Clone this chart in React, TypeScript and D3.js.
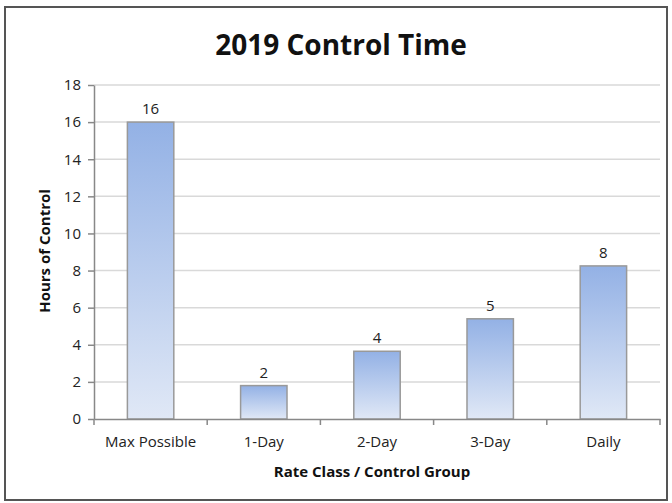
import React, { useEffect, useRef } from 'react';
import * as d3 from 'd3';

const categories = ['Max Possible', '1-Day', '2-Day', '3-Day', 'Daily'];
const hours = [16, 1.8, 3.65, 5.4, 8.25];
const yTicks = [0, 2, 4, 6, 8, 10, 12, 14, 16, 18];

const FONT = '"Open Sans", Lato, sans-serif';

export default function App() {
  const svgRef = useRef<SVGSVGElement>(null);

  useEffect(() => {
    if (!svgRef.current) return;
    const root = d3.select(svgRef.current);
    root.selectAll('*').remove();

    const W = 672;
    const H = 503;
    const margin = { top: 85, right: 12, bottom: 84, left: 94 };
    const width = W - margin.left - margin.right;
    const height = H - margin.top - margin.bottom;

    root.attr('width', W).attr('height', H);

    const defs = root.append('defs');
    const grad = defs.append('linearGradient')
      .attr('id', 'barGrad')
      .attr('x1', 0).attr('y1', 0).attr('x2', 0).attr('y2', 1);
    grad.append('stop').attr('offset', '0%').attr('stop-color', '#93b1e5');
    grad.append('stop').attr('offset', '100%').attr('stop-color', '#e0e8f6');

    root.append('rect')
      .attr('x', 0).attr('y', 0).attr('width', W).attr('height', H)
      .attr('fill', '#fff');

    // chart border
    root.append('rect')
      .attr('x', 5).attr('y', 7).attr('width', 662).attr('height', 493)
      .attr('fill', 'none').attr('stroke', '#555').attr('stroke-width', 2);

    const svg = root.append('g')
      .attr('transform', `translate(${margin.left},${margin.top})`);

    const x = d3.scaleBand().domain(categories).range([0, width]).padding(0);
    const y = d3.scaleLinear().domain([0, 18]).range([height, 0]);

    // gridlines
    svg.append('g')
      .selectAll('line')
      .data(yTicks.slice(1))
      .join('line')
      .attr('x1', 0).attr('x2', width)
      .attr('y1', d => y(d)).attr('y2', d => y(d))
      .attr('stroke', '#d9d9d9').attr('stroke-width', 1.5);

    const barW = x.bandwidth() * 0.41;

    svg.selectAll('rect.bar')
      .data(categories)
      .join('rect')
      .attr('class', 'bar')
      .attr('x', (d) => (x(d) || 0) + (x.bandwidth() - barW) / 2)
      .attr('y', (d, i) => y(hours[i]))
      .attr('width', barW)
      .attr('height', (d, i) => height - y(hours[i]))
      .attr('fill', 'url(#barGrad)')
      .attr('stroke', '#999')
      .attr('stroke-width', 1.5);

    svg.selectAll('text.lbl')
      .data(categories)
      .join('text')
      .attr('class', 'lbl')
      .attr('x', d => (x(d) || 0) + x.bandwidth() / 2)
      .attr('y', (d, i) => y(hours[i]) - 8)
      .attr('text-anchor', 'middle')
      .style('font-family', FONT)
      .style('font-size', '15px')
      .attr('fill', '#222')
      .text((d, i) => d3.format('.0f')(hours[i]));

    // y axis
    const yAxis = svg.append('g')
      .call(d3.axisLeft(y).tickValues(yTicks).tickSize(6).tickPadding(7).tickSizeOuter(0));
    yAxis.select('.domain').attr('stroke', '#888').attr('stroke-width', 1.5);
    yAxis.selectAll('.tick line').attr('stroke', '#888').attr('stroke-width', 1.5);
    yAxis.selectAll('.tick text')
      .style('font-family', FONT).style('font-size', '15px').attr('fill', '#222');

    // x axis
    const xAxis = svg.append('g')
      .attr('transform', `translate(0,${height})`)
      .call(d3.axisBottom(x).tickSize(0).tickPadding(17));
    xAxis.select('.domain').attr('stroke', '#888').attr('stroke-width', 1.5);
    xAxis.selectAll('.tick text')
      .style('font-family', FONT).style('font-size', '15px').attr('fill', '#222');

    const bounds = categories.map(c => x(c) || 0).concat([width]);
    xAxis.selectAll('line.bound')
      .data(bounds)
      .join('line')
      .attr('class', 'bound')
      .attr('x1', d => d).attr('x2', d => d)
      .attr('y1', 0).attr('y2', 6)
      .attr('stroke', '#888').attr('stroke-width', 1.5);

    // titles
    root.append('text')
      .attr('x', 341).attr('y', 55)
      .attr('text-anchor', 'middle')
      .style('font-family', FONT)
      .style('font-size', '28px')
      .style('font-weight', 'bold')
      .attr('fill', '#111')
      .text('2019 Control Time');

    root.append('text')
      .attr('transform', `translate(50,${margin.top + height / 2 - 1}) rotate(-90)`)
      .attr('text-anchor', 'middle')
      .style('font-family', FONT)
      .style('font-size', '15px')
      .style('font-weight', 'bold')
      .attr('fill', '#111')
      .text('Hours of Control');

    root.append('text')
      .attr('x', 372).attr('y', 477)
      .attr('text-anchor', 'middle')
      .style('font-family', FONT)
      .style('font-size', '15px')
      .style('font-weight', 'bold')
      .attr('fill', '#111')
      .text('Rate Class / Control Group');
  }, []);

  return <svg ref={svgRef} style={{ position: 'absolute', left: 0, top: 0 }}></svg>;
}
